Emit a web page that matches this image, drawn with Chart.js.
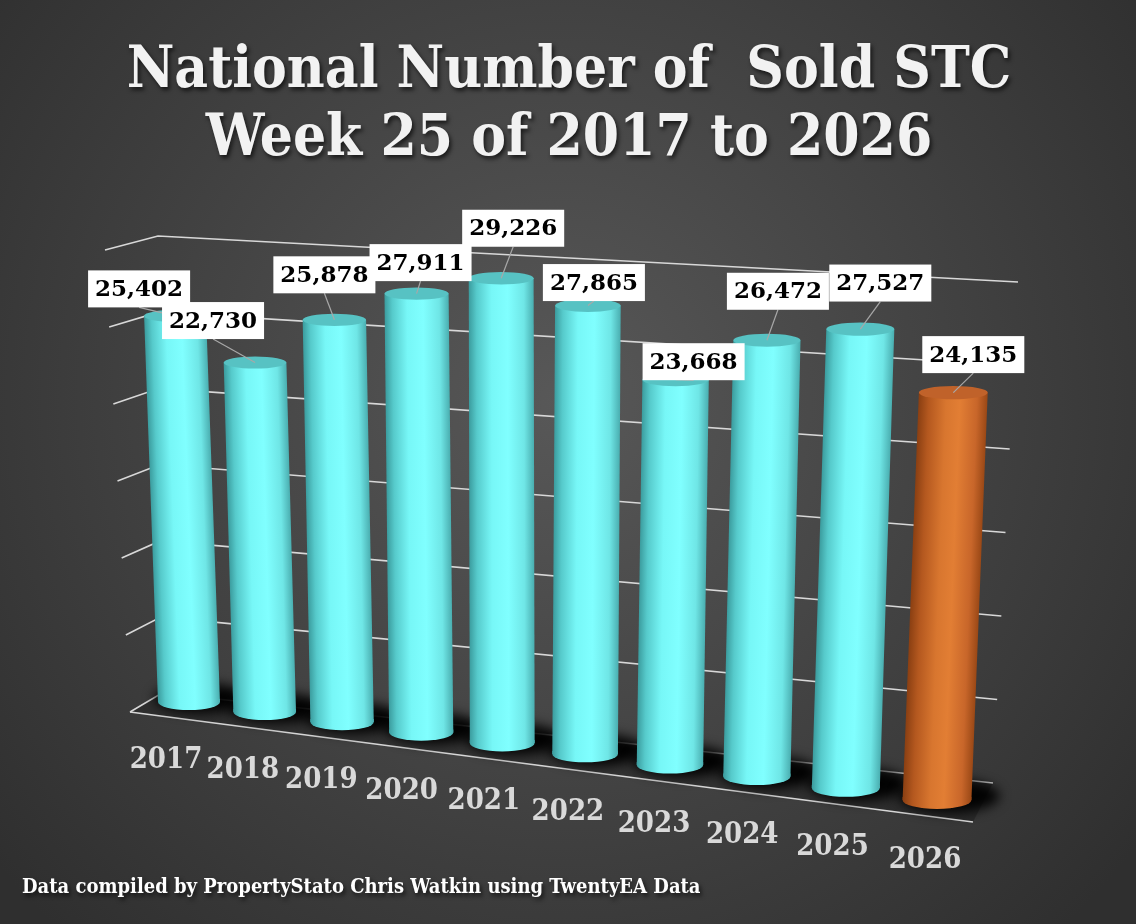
<!DOCTYPE html>
<html>
<head>
<meta charset="utf-8">
<title>National Number of Sold STC</title>
<script src="https://cdn.jsdelivr.net/npm/chart.js@4.4.1/dist/chart.umd.min.js"></script>
<style>
  html, body { margin: 0; padding: 0; background: #3a3a3a; }
  #wrap { width: 1136px; height: 924px; position: relative; }
</style>
</head>
<body>
<div id="wrap"><canvas id="stcChart"></canvas></div>
<script>
// Week 25 sold subject-to-contract, national totals
const years = ['2017', '2018', '2019', '2020', '2021', '2022', '2023', '2024', '2025', '2026'];
const soldStc = [25402, 22730, 25878, 27911, 29226, 27865, 23668, 26472, 27527, 24135];
const highlightYear = '2026';
const valueTicks = [0, 5000, 10000, 15000, 20000, 25000, 30000];

// where each value box sits relative to its cylinder top (dx, dy)
const labelShift = [[-36, -27], [-42, -42], [-10, -45], [4, -31], [12, -50], [6, -23], [18, -18], [11, -49], [20, -46], [20, -38]];

const serifCond = '"DejaVu Serif Condensed", "DejaVu Serif", serif';

// fake 3D view: foreshortening, floor anchors, lean of the cylinders
const view = {
    depth: -0.0995,
    baseX: [189, 937],
    baseY: [702, 800],
    fullHeight: 456,
    barWidth: 62,
    lean: [0.036, -0.04]
};

// wall / floor frame, value 0 and value max
const frame = {
    frontLeft: [[130, 712], [105, 250]],
    backLeft: [[162, 693], [158, 236]],
    backRight: [[993, 783], [1018, 282]],
    frontRight: [973, 822]
};

const cyanStops = [[0, '#3b9c9e'], [0.12, '#56cacb'], [0.35, '#77f7f7'], [0.6, '#80ffff'], [0.85, '#6fe6e6'], [1, '#4aaeb0']];
const orangeStops = [[0, '#8a3f12'], [0.15, '#b4581f'], [0.4, '#d8762f'], [0.6, '#e27e34'], [0.85, '#c8662a'], [1, '#9a4816']];

function lerp(a, b, f) {
    return [a[0] + (b[0] - a[0]) * f, a[1] + (b[1] - a[1]) * f];
}

function valueFrac(chart, v) {
    const ys = chart.scales.y;
    const zero = ys.getPixelForValue(0);
    return (zero - ys.getPixelForValue(v)) / (zero - ys.getPixelForValue(valueTicks[valueTicks.length - 1]));
}

function project(chart, i, v) {
    const xs = chart.scales.x;
    const x0 = xs.getPixelForValue(0);
    const x1 = xs.getPixelForValue(years.length - 1);
    const t = (xs.getPixelForValue(i) - x0) / (x1 - x0);
    const c = view.depth;
    const g = t * (1 + c) / (1 + c * t);
    const s = 1 / (1 + c * t);
    const bx = view.baseX[0] + (view.baseX[1] - view.baseX[0]) * g;
    const by = view.baseY[0] + (view.baseY[1] - view.baseY[0]) * g;
    const h = valueFrac(chart, v) * view.fullHeight * s;
    const lean = view.lean[0] + (view.lean[1] - view.lean[0]) * t;
    return { t, g, s, bx, by, top: by - h, topX: bx - lean * h, w: view.barWidth * s, lean };
}

function leaningDraw(ctx) {
    ctx.save();
    ctx.translate(this.x, this.base);
    ctx.transform(1, 0, this.$lean, 1, 0, 0);
    ctx.translate(-this.x, -this.base);
    Chart.BarElement.prototype.draw.call(this, ctx);
    ctx.restore();
}

const cylinders = {
    id: 'cylinders',
    beforeDraw(chart) {
        const ctx = chart.ctx;
        const bg = ctx.createRadialGradient(560, 400, 0, 560, 400, 730);
        bg.addColorStop(0, '#585858');
        bg.addColorStop(1, '#2f2f2f');
        ctx.save();
        ctx.fillStyle = bg;
        ctx.fillRect(0, 0, chart.width, chart.height);
        ctx.restore();
        // shadow for title text
        ctx.save();
        ctx.shadowColor = 'rgba(0,0,0,0.65)';
        ctx.shadowOffsetX = 2;
        ctx.shadowOffsetY = 3;
        ctx.shadowBlur = 4;
    },
    afterDatasetsUpdate(chart) {
        const meta = chart.getDatasetMeta(0);
        meta.data.forEach((bar, i) => {
            const p = project(chart, i, soldStc[i]);
            bar.x = p.bx;
            bar.base = p.by;
            bar.y = p.top;
            bar.width = p.w;
            bar.$lean = p.lean;
            bar.draw = leaningDraw;
        });
    },
    beforeDatasetsDraw(chart) {
        const ctx = chart.ctx;
        ctx.restore(); // drop title shadow

        // floor
        ctx.save();
        ctx.beginPath();
        ctx.moveTo(...frame.frontLeft[0]);
        ctx.lineTo(...frame.backLeft[0]);
        ctx.lineTo(...frame.backRight[0]);
        ctx.lineTo(...frame.frontRight);
        ctx.closePath();
        ctx.fillStyle = 'rgba(0,0,0,0.22)';
        ctx.fill();

        // wall grid from the value scale
        ctx.strokeStyle = '#d8d8d8';
        ctx.lineWidth = 1.6;
        chart.scales.y.ticks.forEach(tk => {
            const f = valueFrac(chart, tk.value);
            const a = lerp(frame.frontLeft[0], frame.frontLeft[1], f);
            const b = lerp(frame.backLeft[0], frame.backLeft[1], f);
            const c = lerp(frame.backRight[0], frame.backRight[1], f);
            ctx.beginPath();
            ctx.moveTo(...a);
            ctx.lineTo(...b);
            ctx.lineTo(...c);
            ctx.stroke();
        });
        ctx.beginPath();
        ctx.moveTo(...frame.frontLeft[0]);
        ctx.lineTo(...frame.frontRight);
        ctx.stroke();

        // soft shadows at the cylinder bases
        ctx.filter = 'blur(6px)';
        ctx.fillStyle = 'rgba(0,0,0,0.95)';
        soldStc.forEach((v, i) => {
            const p = project(chart, i, v);
            ctx.beginPath();
            ctx.ellipse(p.bx + 12, p.by - 4, p.w / 2 + 16, 15 * p.s, 0, 0, Math.PI * 2);
            ctx.fill();
        });
        ctx.restore();
    },
    afterDatasetsDraw(chart) {
        const ctx = chart.ctx;
        const meta = chart.getDatasetMeta(0);
        ctx.save();
        meta.data.forEach((bar, i) => {
            const p = project(chart, i, soldStc[i]);
            const hot = years[i] === highlightYear;
            // rounded bottom, overlapping the bar a little to hide the seam
            ctx.beginPath();
            ctx.moveTo(p.bx - p.w / 2, p.by - 3);
            ctx.lineTo(p.bx + p.w / 2, p.by - 3);
            ctx.ellipse(p.bx, p.by, p.w / 2, 8 * p.s, 0, 0, Math.PI);
            ctx.closePath();
            ctx.fillStyle = bar.options.backgroundColor;
            ctx.fill();
            // top face
            ctx.beginPath();
            ctx.ellipse(p.topX, p.top, p.w / 2, 6 * p.s, 0, 0, Math.PI * 2);
            ctx.fillStyle = hot ? '#c0622a' : '#57c2c3';
            ctx.fill();
        });

        // value boxes with leader lines
        ctx.font = 'bold 23px "DejaVu Serif", serif';
        ctx.textAlign = 'center';
        ctx.textBaseline = 'middle';
        soldStc.forEach((v, i) => {
            const p = project(chart, i, v);
            const txt = v.toLocaleString('en-US');
            const bw = ctx.measureText(txt).width + 14;
            const bh = 37;
            const cx = p.topX + labelShift[i][0];
            const cy = p.top + labelShift[i][1];
            ctx.strokeStyle = '#a8a8a8';
            ctx.lineWidth = 1.2;
            ctx.beginPath();
            ctx.moveTo(cx, cy + bh / 2);
            ctx.lineTo(p.topX, p.top);
            ctx.stroke();
            ctx.fillStyle = '#ffffff';
            ctx.fillRect(cx - bw / 2, cy - bh / 2, bw, bh);
            ctx.fillStyle = '#000000';
            ctx.fillText(txt, cx, cy + 1);
        });

        // year labels along the floor edge
        const xs = chart.scales.x;
        ctx.font = 'bold 29px ' + serifCond;
        ctx.fillStyle = '#d9d9d9';
        years.forEach((y, i) => {
            const p = project(chart, i, 0);
            ctx.fillText(xs.getLabelForValue(i), p.bx - 23 + 11 * p.g, p.by + 58 + 2 * p.g);
        });
        ctx.restore();
    }
};

new Chart(document.getElementById('stcChart'), {
    type: 'bar',
    data: {
        labels: years,
        datasets: [{
            label: 'Sold STC',
            data: soldStc,
            clip: false,
            borderWidth: 0,
            backgroundColor: (c) => {
                if (c.type !== 'data' || !c.chart.chartArea) return '#78f8f8';
                const p = project(c.chart, c.dataIndex, soldStc[c.dataIndex]);
                const stops = years[c.dataIndex] === highlightYear ? orangeStops : cyanStops;
                const grad = c.chart.ctx.createLinearGradient(p.bx - p.w / 2, 0, p.bx + p.w / 2, 0);
                stops.forEach(([o, col]) => grad.addColorStop(o, col));
                return grad;
            }
        }]
    },
    options: {
        responsive: true,
        maintainAspectRatio: false,
        animation: false,
        layout: { padding: { left: 22, right: 20 } },
        scales: {
            x: {
                grid: { display: false },
                border: { display: false },
                ticks: { display: false }
            },
            y: {
                min: valueTicks[0],
                max: valueTicks[valueTicks.length - 1],
                grid: { display: false },
                border: { display: false },
                ticks: { display: false, stepSize: valueTicks[1] - valueTicks[0] }
            }
        },
        plugins: {
            legend: { display: false },
            tooltip: { enabled: false },
            title: {
                display: true,
                text: ['National Number of  Sold STC', 'Week 25 of 2017 to 2026'],
                color: '#f2f2f2',
                font: { family: serifCond, size: 58, weight: 'bold', lineHeight: 1.17 },
                padding: { top: 38, bottom: 10 }
            },
            subtitle: {
                display: true,
                position: 'bottom',
                align: 'start',
                text: 'Data compiled by PropertyStato Chris Watkin using TwentyEA Data',
                color: '#ffffff',
                font: { family: serifCond, size: 20, weight: 'bold' },
                padding: { top: 0, bottom: 24 }
            }
        }
    },
    plugins: [cylinders]
});
</script>
</body>
</html>
